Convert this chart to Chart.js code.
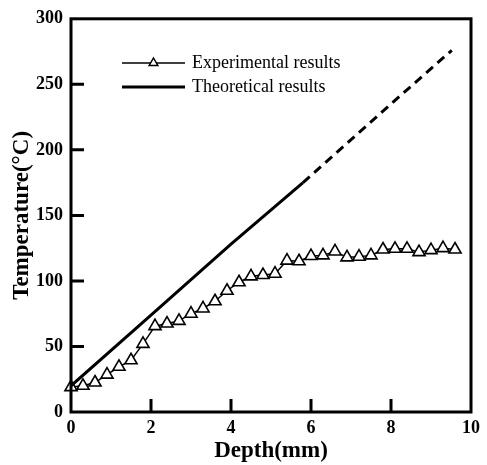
<!DOCTYPE html>
<html>
<head>
<meta charset="utf-8">
<script src="https://cdn.jsdelivr.net/npm/chart.js@4/dist/chart.umd.min.js"></script>
<style>
html,body{margin:0;padding:0;background:#fff;}
canvas{display:block;}
</style>
</head>
<body>
<canvas id="c" width="487" height="465"></canvas>
<script>
// ---- data ----
const depth = [0,0.3,0.6,0.9,1.2,1.5,1.8,2.1,2.4,2.7,3.0,3.3,3.6,3.9,4.2,4.5,4.8,5.1,5.4,5.7,6.0,6.3,6.6,6.9,7.2,7.5,7.8,8.1,8.4,8.7,9.0,9.3,9.6];
const expTemp = [19,20,22.5,28.5,34.5,39.5,52,65.5,67.5,69.5,75,79,84.5,92.5,99,103.5,104.5,105.5,115.5,115,119,119.5,122.5,118,118.5,119.5,124,124.5,124.5,122,123.5,125,124];
const theoryDepthSolid = [0, 2, 4, 5.8];
const theoryTempSolid = [20, 74, 128, 175];
const theoryDepthDash = [5.8, 8, 9.52];
const theoryTempDash = [175, 235, 276];
const xTicks = [0, 2, 4, 6, 8, 10];
const yTicks = [0, 50, 100, 150, 200, 250, 300];
const legendLabels = ['Experimental results', 'Theoretical results'];
const xTitle = 'Depth(mm)';
const yTitle = 'Temperature(\u00B0C)';

const pts = (xs, ys) => xs.map((x, i) => ({x: x, y: ys[i]}));

const frameTicks = {
  id: 'frameTicks',
  afterDatasetsDraw(chart) {
    const {ctx, chartArea: a, scales: {x, y}} = chart;
    ctx.save();
    ctx.strokeStyle = '#000';
    ctx.lineWidth = 3;
    ctx.strokeRect(a.left, a.top, a.right - a.left, a.bottom - a.top);
    ctx.beginPath();
    yTicks.forEach(v => {
      if (v === yTicks[0] || v === yTicks[yTicks.length - 1]) return;
      const py = y.getPixelForValue(v);
      ctx.moveTo(a.left, py); ctx.lineTo(a.left + 13, py);
    });
    xTicks.forEach(v => {
      if (v === xTicks[0] || v === xTicks[xTicks.length - 1]) return;
      const px = x.getPixelForValue(v);
      ctx.moveTo(px, a.bottom); ctx.lineTo(px, a.bottom - 13);
    });
    ctx.stroke();

    // legend
    const lx0 = 122, lx1 = 185, tx = 192;
    const ys = [63, 87];
    ctx.lineWidth = 1.5;
    ctx.beginPath(); ctx.moveTo(lx0, ys[0]); ctx.lineTo(lx1, ys[0]); ctx.stroke();
    const cx = (lx0 + lx1) / 2, r = 5;
    ctx.beginPath();
    ctx.moveTo(cx, ys[0] - r);
    ctx.lineTo(cx + r * 0.866, ys[0] + r / 2);
    ctx.lineTo(cx - r * 0.866, ys[0] + r / 2);
    ctx.closePath();
    ctx.fillStyle = '#fff'; ctx.fill(); ctx.stroke();
    ctx.lineWidth = 3;
    ctx.beginPath(); ctx.moveTo(lx0, ys[1]); ctx.lineTo(lx1, ys[1]); ctx.stroke();
    ctx.fillStyle = '#000';
    ctx.font = '18px "Liberation Serif"';
    ctx.textBaseline = 'middle';
    ctx.textAlign = 'left';
    ctx.fillText(legendLabels[0], tx, ys[0]);
    ctx.fillText(legendLabels[1], tx, ys[1]);
    ctx.restore();
  }
};

new Chart(document.getElementById('c'), {
  type: 'scatter',
  data: {
    datasets: [
      {
        label: 'Theoretical results',
        data: pts(theoryDepthSolid, theoryTempSolid),
        showLine: true, borderColor: '#000', borderWidth: 3,
        pointRadius: 0, tension: 0
      },
      {
        label: 'Theoretical results (extrapolated)',
        data: pts(theoryDepthDash, theoryTempDash),
        showLine: true, borderColor: '#000', borderWidth: 3, borderDash: [9, 6],
        pointRadius: 0, tension: 0
      },
      {
        label: 'Experimental results',
        data: pts(depth, expTemp),
        showLine: true, borderColor: '#000', borderWidth: 1.5,
        pointStyle: 'triangle', pointRadius: 7, pointBorderWidth: 1.6,
        pointBackgroundColor: '#fff', pointBorderColor: '#000',
        tension: 0, clip: false
      }
    ]
  },
  options: {
    responsive: false,
    animation: false,
    layout: {padding: {left: 0, right: 16, top: 12, bottom: 0}},
    plugins: {legend: {display: false}, tooltip: {enabled: false}},
    scales: {
      x: {
        type: 'linear', min: 0, max: 10,
        afterBuildTicks: s => { s.ticks = xTicks.map(v => ({value: v})); },
        afterFit: s => { s.height = 53; },
        grid: {display: false, drawTicks: false},
        border: {display: false},
        ticks: {color: '#000', padding: 6, font: {family: 'Liberation Serif', size: 18, weight: 'bold'}},
        title: {display: true, text: xTitle, color: '#000', padding: {top: 0, bottom: 0},
                font: {family: 'Liberation Serif', size: 23, weight: 'bold'}}
      },
      y: {
        type: 'linear', min: 0, max: 300,
        afterBuildTicks: s => { s.ticks = yTicks.map(v => ({value: v})); },
        afterFit: s => { s.width = 71; },
        grid: {display: false, drawTicks: false},
        border: {display: false},
        ticks: {color: '#000', padding: 8, font: {family: 'Liberation Serif', size: 18, weight: 'bold'}},
        title: {display: true, text: yTitle, color: '#000', padding: {top: 8, bottom: 0},
                font: {family: 'Liberation Serif', size: 23, weight: 'bold'}}
      }
    }
  },
  plugins: [frameTicks]
});
</script>
</body>
</html>
